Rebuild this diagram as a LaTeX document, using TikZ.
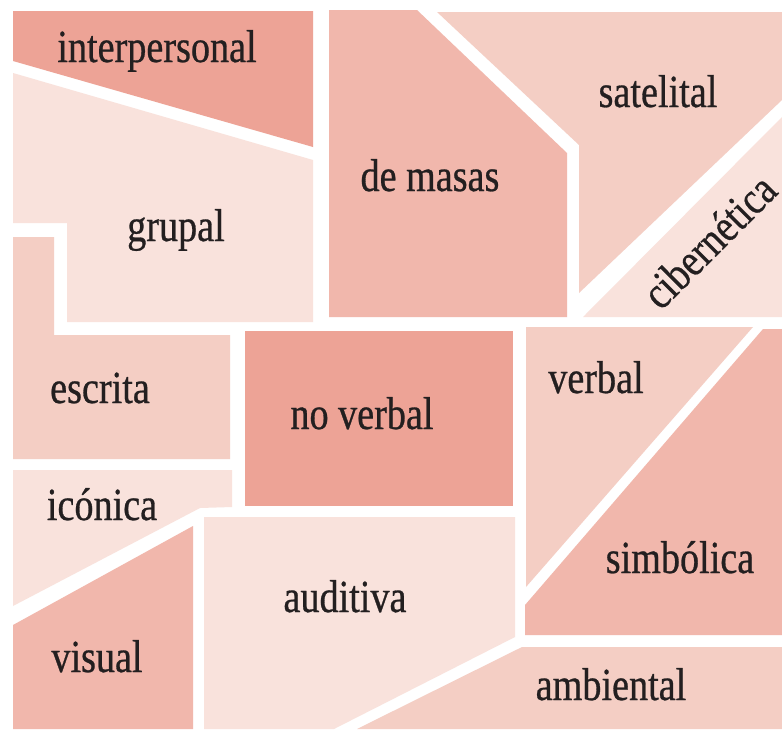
\documentclass[tikz,border=0pt]{standalone}
\usepackage{fontspec}
\newfontfamily\labfont[FakeStretch=0.83, FakeBold=0.6]{Liberation Serif}
\definecolor{tone1}{HTML}{EDA396}
\definecolor{tone2}{HTML}{F1B7AC}
\definecolor{tone3}{HTML}{F4CEC4}
\definecolor{tone4}{HTML}{F9E2DC}
\definecolor{ink}{HTML}{231F20}

\begin{document}
\begin{tikzpicture}[
		x=1pt, y=-1pt,
		lab/.style={anchor=base, inner sep=0pt, text=ink, font=\labfont\fontsize{46}{50}\selectfont},
	]
		\useasboundingbox (0,0) rectangle (782,729);
		\fill[white] (0,0) rectangle (782,729);

		% top left
		\fill[tone1] (13,11) -- (313,11) -- (313,147) -- (13,61) -- cycle;
		\fill[tone4] (13,73) -- (313,160) -- (313,322) -- (67,322) -- (67,223) -- (13,223) -- cycle;
		\node[lab] (interpersonal) at (157,62) {interpersonal};
		\node[lab] (grupal) at (176,241) {grupal};

		% top right
		\fill[tone2] (329,10) -- (417,10) -- (567,153) -- (567,317) -- (329,317) -- cycle;
		\fill[tone3] (437,12) -- (782,12) -- (782,100) -- (579,293) -- (579,145) -- cycle;
		\fill[tone4] (583,317) -- (782,117) -- (782,317) -- cycle;
		\node[lab] (masas) at (430,191) {de masas};
		\node[lab] (satelital) at (658,107) {satelital};
		\node[lab, anchor=center, rotate=45] (cibernetica) at (709,241) {cibernética};

		% left column
		\fill[tone3] (13,237) -- (54,237) -- (54,335) -- (230,335) -- (230,459) -- (13,459) -- cycle;
		\fill[tone4] (13,470) -- (232,470) -- (232,507) -- (200,508) -- (13,606) -- cycle;
		\fill[tone2] (13,625) -- (193,526) -- (193,729) -- (13,729) -- cycle;
		\node[lab] (escrita) at (100,403) {escrita};
		\node[lab] (iconica) at (102,520) {icónica};
		\node[lab] (visual) at (97,672) {visual};

		% middle
		\fill[tone1] (245,331) rectangle (513,506);
		\fill[tone4] (204,517) -- (515,517) -- (515,637) -- (334,729) -- (204,729) -- cycle;
		\node[lab] (noverbal) at (362,429) {no verbal};
		\node[lab] (auditiva) at (345,612) {auditiva};

		% bottom right
		\fill[tone3] (526,327) -- (753,327) -- (526,587) -- cycle;
		\fill[tone2] (763,329) -- (782,329) -- (782,635) -- (525,635) -- (525,605) -- cycle;
		\fill[tone3] (522,647) -- (782,647) -- (782,729) -- (357,729) -- cycle;
		\node[lab] (verbal) at (596,393) {verbal};
		\node[lab] (simbolica) at (680,573) {simbólica};
		\node[lab] (ambiental) at (611,700) {ambiental};
	\end{tikzpicture}
\end{document}
